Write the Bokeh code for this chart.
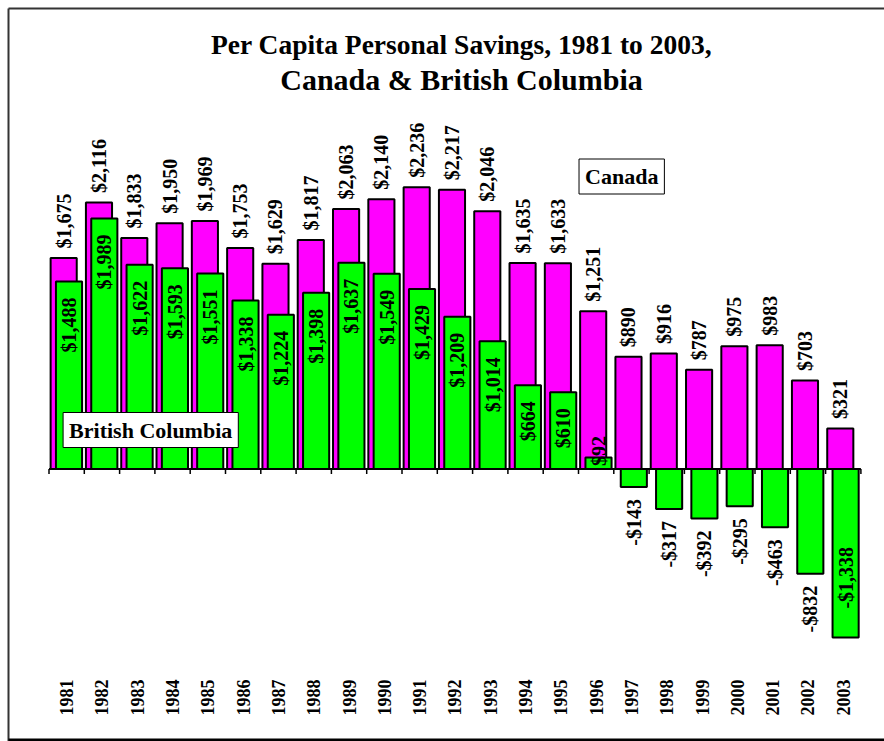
import math
from bokeh.plotting import figure
from bokeh.models import Range1d, Label
from bokeh.core.properties import value
from bokeh.embed import file_html
from bokeh.resources import INLINE

years = [str(y) for y in range(1981, 2004)]
canada = [1675, 2116, 1833, 1950, 1969, 1753, 1629, 1817, 2063, 2140, 2236, 2217,
          2046, 1635, 1633, 1251, 890, 916, 787, 975, 983, 703, 321]
bc = [1488, 1989, 1622, 1593, 1551, 1338, 1224, 1398, 1637, 1549, 1429, 1209,
      1014, 664, 610, 92, -143, -317, -392, -295, -463, -832, -1338]

title1 = "Per Capita Personal Savings, 1981 to 2003,"
title2 = "Canada & British Columbia"
name_can = "Canada"
name_bc = "British Columbia"

W, H = 884, 741
PXD = 0.126          # pixels per dollar
CAT = 35.3           # pixels per category
XC0 = 66.15          # pixel centre of first category
YB = 468.5           # pixel row of the zero line
FONT = "Liberation Serif"
MAGENTA = "#FF00FF"
GREEN = "#00FF00"


def px_to_x(px):
    return (px - XC0) / CAT


def py_to_y(py):
    return (YB - py) / PXD


X0, X1 = px_to_x(0), px_to_x(W)
Y0, Y1 = py_to_y(H), py_to_y(0)

p = figure(width=W, height=H, x_range=Range1d(X0, X1), y_range=Range1d(Y0, Y1),
           output_backend="svg", toolbar_location=None,
           x_axis_location=None, y_axis_location=None, min_border=0,
           background_fill_color="white", border_fill_color="white",
           outline_line_color=None)
p.xgrid.visible = False
p.ygrid.visible = False


def fmt(v):
    return ("-" if v < 0 else "") + "${:,}".format(abs(v))


def text_len(s, size=20):
    w = {"$": 0.5, ",": 0.25, "-": 0.333}
    return sum(w.get(c, 0.5) for c in s) * size


idx = list(range(len(years)))
x_can = [i - 0.084 for i in idx]
x_bc = [i + 0.067 for i in idx]

# outer chart border (top/left thin, bottom thick shadow)
bx0, by0, by1 = px_to_x(8), py_to_y(8), py_to_y(739.5)
p.segment(x0=[bx0, bx0], y0=[by0, by0], x1=[bx0, X1], y1=[Y0, by0],
          line_color="#333333", line_width=2)
p.segment(x0=[bx0], y0=[by1], x1=[X1], y1=[by1], line_color="black", line_width=3)

# base line and ticks
p.segment(x0=[-0.5], y0=[0], x1=[len(years) - 0.5], y1=[0], line_color="black", line_width=2)
tick_x = [i - 0.5 for i in range(len(years) + 1)]
p.segment(x0=tick_x, y0=[0] * len(tick_x), x1=tick_x, y1=[-5 / PXD] * len(tick_x),
          line_color="black", line_width=1.5)

p.vbar(x=x_can, top=canada, bottom=0, width=0.74, fill_color=MAGENTA,
       line_color="black", line_width=2)
p.vbar(x=x_bc, top=bc, bottom=0, width=0.74, fill_color=GREEN,
       line_color="black", line_width=2)

common = dict(angle=math.pi / 2, text_font=value(FONT), text_font_style="bold",
              text_font_size="20px", text_color="black", text_baseline="middle")

# Canada labels: outside end
p.text(x=x_can, y=canada, text=[fmt(v) for v in canada], text_align="left",
       y_offset=-9.5, **common)

# BC labels
groups = {"in_top": ([], [], []), "base": ([], [], []), "below": ([], [], []), "in_bot": ([], [], [])}
for x, v in zip(x_bc, bc):
    s = fmt(v)
    L = text_len(s)
    if v > 0:
        key = "in_top" if v * PXD >= L + 20 else "base"
    else:
        key = "below" if v - (12 + L) / PXD > -1500 else "in_bot"
    g = groups[key]
    g[0].append(x)
    g[1].append(v if key != "base" else 0)
    g[2].append(s)

settings = {"in_top": ("right", 16), "base": ("left", -3), "below": ("right", 12), "in_bot": ("left", -29)}
for key, (xs, ys, ts) in groups.items():
    if xs:
        al, off = settings[key]
        p.text(x=xs, y=ys, text=ts, text_align=al, y_offset=off, **common)

# year labels
p.text(x=idx, y=[py_to_y(697)] * len(idx), text=years, angle=math.pi / 2,
       text_font=value(FONT), text_font_style="bold", text_font_size="18px",
       text_align="center", text_baseline="middle", text_color="black")

# titles
for t, yy, fs in ((title1, H - 44, "27.5px"), (title2, H - 79, "30px")):
    p.add_layout(Label(x=461, y=yy, x_units="screen", y_units="screen", text=t,
                       text_align="center", text_baseline="alphabetic", text_font=FONT,
                       text_font_style="bold", text_font_size=fs, text_color="black"))

# legend-like boxes with shadows
for t, cx, cy in ((name_bc, 150.2, H - 429.5), (name_can, 621.2, H - 176)):
    p.add_layout(Label(x=cx + 8.5, y=cy - 8.5, x_units="screen", y_units="screen", text=t,
                       text_align="center", text_baseline="middle", text_font=FONT,
                       text_font_style="bold", text_font_size="22px", text_alpha=0,
                       background_fill_color="#808080", padding=(6, 5)))
    p.add_layout(Label(x=cx, y=cy, x_units="screen", y_units="screen", text=t,
                       text_align="center", text_baseline="middle", text_font=FONT,
                       text_font_style="bold", text_font_size="22px", text_color="black",
                       background_fill_color="white", border_line_color="black",
                       border_line_width=1, padding=(6, 5)))

open("out.html", "w").write(file_html(p, INLINE))
